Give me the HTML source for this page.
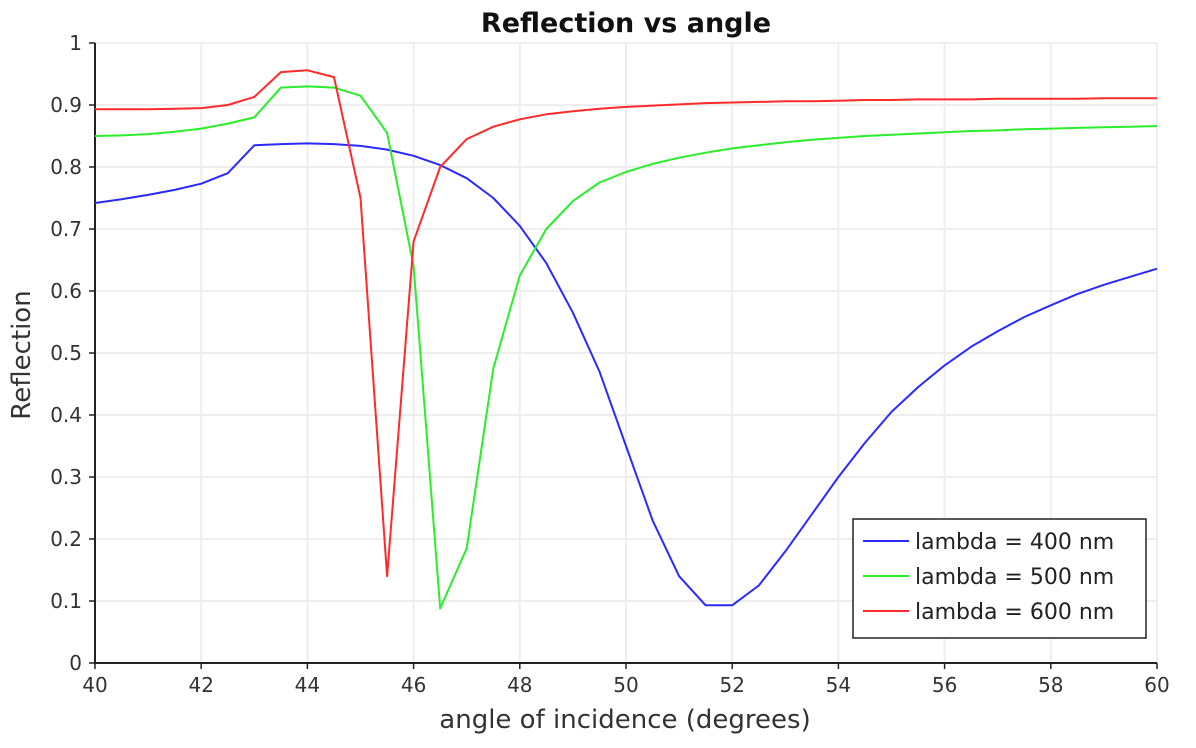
<!DOCTYPE html>
<html><head><meta charset="utf-8"><style>
body{margin:0;background:#fff;}
svg{display:block;font-family:"DejaVu Sans","Liberation Sans",sans-serif;}
</style></head><body>
<svg id="chart" width="1196" height="748">
<text x="626" y="32" text-anchor="middle" font-size="27" font-weight="bold" fill="#111">Reflection vs angle</text>
<text x="625" y="728" text-anchor="middle" font-size="26" fill="#333">angle of incidence (degrees)</text>
<text transform="translate(30,355) rotate(-90)" text-anchor="middle" font-size="26" fill="#333">Reflection</text>
<g id="grid"></g><g id="axes"></g><g id="series"></g>
<g>
<rect x="853" y="519" width="293" height="119" fill="#fff" stroke="#222" stroke-width="1.5"/>
<g id="legend-items"></g>
</g>
</svg>
<script>
const xTicks=[40,42,44,46,48,50,52,54,56,58,60];
const yTicks=[0,0.1,0.2,0.3,0.4,0.5,0.6,0.7,0.8,0.9,1];
const yTickLabels=["0","0.1","0.2","0.3","0.4","0.5","0.6","0.7","0.8","0.9","1"];
const angles=[40,40.5,41,41.5,42,42.5,43,43.5,44,44.5,45,45.5,46,46.5,47,47.5,48,48.5,49,49.5,50,50.5,51,51.5,52,52.5,53,53.5,54,54.5,55,55.5,56,56.5,57,57.5,58,58.5,59,59.5,60];
const r400=[0.742,0.748,0.755,0.763,0.773,0.79,0.835,0.837,0.838,0.837,0.834,0.828,0.818,0.803,0.782,0.75,0.705,0.645,0.565,0.47,0.35,0.23,0.14,0.093,0.093,0.125,0.18,0.24,0.3,0.355,0.405,0.445,0.48,0.51,0.535,0.558,0.577,0.595,0.61,0.623,0.636];
const r500=[0.85,0.851,0.853,0.857,0.862,0.87,0.88,0.928,0.93,0.928,0.915,0.855,0.64,0.088,0.185,0.475,0.625,0.7,0.745,0.775,0.792,0.805,0.815,0.823,0.83,0.835,0.84,0.844,0.847,0.85,0.852,0.854,0.856,0.858,0.859,0.861,0.862,0.863,0.864,0.865,0.866];
const r600=[0.893,0.893,0.893,0.894,0.895,0.9,0.913,0.953,0.956,0.945,0.75,0.14,0.68,0.8,0.845,0.865,0.877,0.885,0.89,0.894,0.897,0.899,0.901,0.903,0.904,0.905,0.906,0.906,0.907,0.908,0.908,0.909,0.909,0.909,0.91,0.91,0.91,0.91,0.911,0.911,0.911];
const seriesNames=["lambda = 400 nm","lambda = 500 nm","lambda = 600 nm"];
const seriesColors=["#2a2aff","#2aee2a","#ff2a2a"];
const X0=95,X1=1157,Y0=663,Y1=43;
const xs=v=>X0+(v-40)/20*(X1-X0);
const ys=v=>Y0-v*(Y0-Y1);
const NS="http://www.w3.org/2000/svg";
function mk(tag,attrs,parent,text){const e=document.createElementNS(NS,tag);for(const k in attrs)e.setAttribute(k,attrs[k]);if(text!==undefined)e.textContent=text;parent.appendChild(e);return e;}
const grid=document.getElementById('grid'),axes=document.getElementById('axes'),ser=document.getElementById('series'),leg=document.getElementById('legend-items');
xTicks.forEach(t=>{
 const g=mk('line',{x1:xs(t),x2:xs(t),y1:Y1,y2:Y0,stroke:'#eeeeee','stroke-width':2},grid);
 
 
 mk('line',{x1:xs(t),x2:xs(t),y1:Y0,y2:Y0+6,stroke:'#222','stroke-width':1.5},axes);
 const l=mk('text',{x:xs(t),y:Y0+29,'text-anchor':'middle','font-size':20,fill:'#333'},axes,String(t));
 
 
});
yTicks.forEach((t,i)=>{
 const g=mk('line',{x1:X0,x2:X1,y1:ys(t),y2:ys(t),stroke:'#eeeeee','stroke-width':2},grid);
 
 
 mk('line',{x1:X0-6,x2:X0,y1:ys(t),y2:ys(t),stroke:'#222','stroke-width':1.5},axes);
 const l=mk('text',{x:X0-13,y:ys(t)+7,'text-anchor':'end','font-size':20,fill:'#333'},axes,yTickLabels[i]);
 
 
});
const ax=mk('path',{d:`M${X0},${Y1}V${Y0}H${X1}`,fill:'none',stroke:'#222','stroke-width':2},axes);


[r400,r500,r600].forEach((arr,s)=>{
 const d=arr.map((v,i)=>(i?'L':'M')+xs(angles[i]).toFixed(1)+','+ys(v).toFixed(1)).join('');
 const p=mk('path',{d:d,fill:'none',stroke:seriesColors[s],'stroke-width':2,'stroke-linejoin':'round'},ser);
 
 
 const ly=541+s*35;
 const g=mk('g',{},leg);
 
 
 mk('line',{x1:863,x2:909,y1:ly,y2:ly,stroke:seriesColors[s],'stroke-width':2},g);
 mk('text',{x:915,y:ly+8,'font-size':22,fill:'#222'},g,seriesNames[s]);
});
</script>
</body></html>
